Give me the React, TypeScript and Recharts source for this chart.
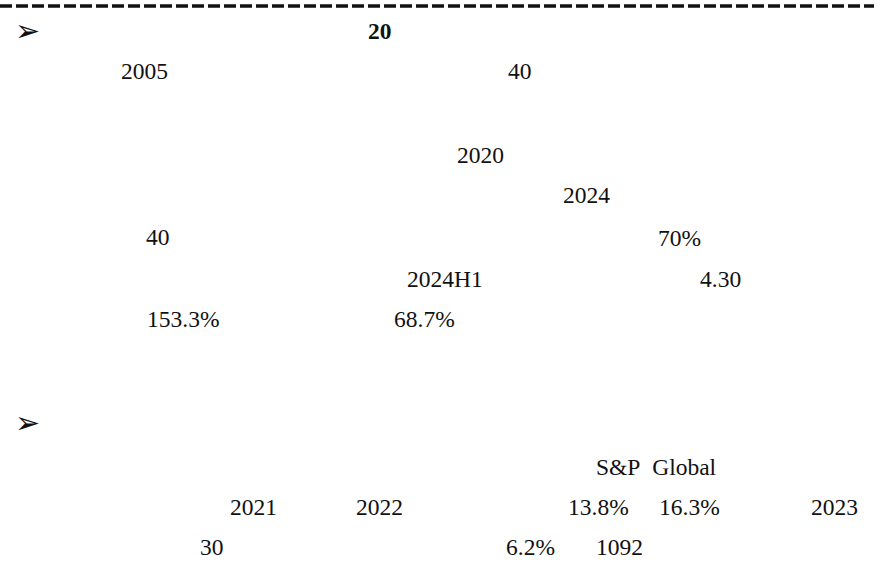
import React from "react";
import { ScatterChart, Scatter, XAxis, YAxis, ReferenceLine } from "recharts";

// Text fragments on the page (labels), with their horizontal and baseline values
const labels = [
  "20", "2005", "40", "2020", "2024", "40", "70%", "2024H1", "4.30",
  "153.3%", "68.7%", "S&P\u00a0\u00a0Global", "2021", "2022", "13.8%",
  "16.3%", "2023", "30", "6.2%", "1092",
];
const xValues = [368, 121, 508, 457, 563, 146, 658, 407, 700, 147, 394, 596, 230, 356, 568, 659, 811, 200, 506, 596];
const yValues = [39, 79, 79, 163, 203, 245, 246, 287, 287, 327, 327, 475, 515, 515, 515, 515, 515, 555, 555, 555];
const boldFlags = [true, false, false, false, false, false, false, false, false, false, false, false, false, false, false, false, false, false, false, false];

const bulletX = [15, 15];
const bulletY = [41, 433];

const textData = labels.map((label, i) => ({ x: xValues[i], y: yValues[i], label, bold: boldFlags[i] }));
const bulletData = bulletX.map((x, i) => ({ x, y: bulletY[i], label: "\u27A2" }));

const W = 882;
const H = 562;

const SERIF = "'Times New Roman', 'Liberation Serif', serif";

const TextMark = (props: any) => {
  const { cx, cy, payload } = props;
  return (
    <text
      x={cx}
      y={cy}
      textAnchor="start"
      style={{
        fontFamily: SERIF,
        fontSize: 23.5,
        fontWeight: payload.bold ? 700 : 400,
        fill: "#111",
        whiteSpace: "pre",
      }}
    >
      {payload.label}
    </text>
  );
};

const BulletMark = (props: any) => {
  const { cx, cy, payload } = props;
  return (
    <text
      x={cx}
      y={cy}
      textAnchor="start"
      style={{ fontFamily: "'DejaVu Sans', sans-serif", fontSize: 30, fill: "#111" }}
    >
      {payload.label}
    </text>
  );
};

export default function App() {
  return (
    <div style={{ position: "fixed", left: 0, top: 0, width: W, height: H, background: "#fff" }}>
      <ScatterChart width={W} height={H} margin={{ top: 0, right: 0, bottom: 0, left: 0 }}>
        <XAxis type="number" dataKey="x" domain={[0, W]} hide allowDataOverflow />
        <YAxis type="number" dataKey="y" domain={[0, H]} reversed hide allowDataOverflow />
        <ReferenceLine
          segment={[{ x: 0, y: 6 }, { x: 874, y: 6 }]}
          stroke="#111"
          strokeWidth={3.5}
          strokeDasharray="12 4"
          ifOverflow="extendDomain"
        />
        <Scatter data={textData} shape={<TextMark />} isAnimationActive={false} />
        <Scatter data={bulletData} shape={<BulletMark />} isAnimationActive={false} />
      </ScatterChart>
    </div>
  );
}
